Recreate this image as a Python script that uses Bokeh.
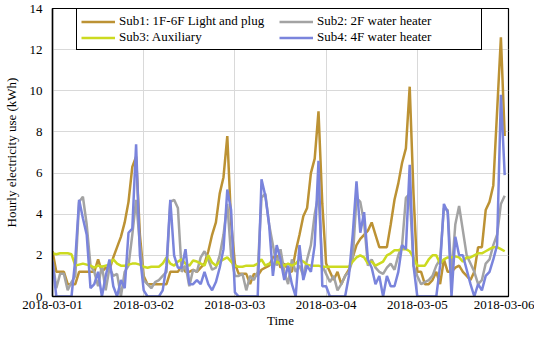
from bokeh.plotting import figure
from bokeh.models import Legend, LegendItem, FixedTicker, Range1d, ColumnDataSource
from bokeh.embed import file_html
from bokeh.resources import INLINE

# ---- data (hourly, 2018-03-01 00:00 .. 2018-03-05 23:00) ----
tick_labels = ["2018-03-01", "2018-03-02", "2018-03-03", "2018-03-04", "2018-03-05", "2018-03-06"]
series_names = ["Sub1: 1F-6F Light and plug", "Sub2: 2F water heater",
                "Sub3: Auxiliary", "Sub4: 4F water heater"]

sub1 = [2.2, 1.2, 1.2, 1.2, 0.6, 0.6, 0.6, 1.2, 1.2, 1.2, 1.2, 1.2, 1.8, 1.2, 1.4, 1.3, 1.9, 2.4, 2.9, 3.6, 4.6, 6.3, 6.8, 3.0,
        1.0, 0.6, 0.6, 0.6, 0.6, 0.6, 0.6, 1.2, 1.2, 1.2, 1.5, 1.2, 1.2, 1.3, 1.2, 1.4, 1.6, 2.2, 3.0, 3.6, 5.0, 5.8, 7.8, 3.6,
        1.6, 1.1, 1.1, 1.1, 0.6, 1.1, 1.0, 1.3, 1.4, 1.5, 1.9, 2.0, 1.4, 1.6, 1.3, 1.2, 2.2, 3.0, 3.9, 4.3, 6.0, 6.7, 9.0, 4.5,
        1.6, 1.2, 0.8, 1.2, 0.6, 1.0, 1.3, 1.9, 2.5, 2.8, 3.0, 3.2, 3.6, 3.0, 2.4, 2.4, 2.4, 3.5, 4.7, 5.5, 6.5, 7.2, 10.2, 5.0,
        1.2, 1.2, 0.6, 0.6, 0.8, 1.2, 0.6, 1.8, 1.2, 1.2, 1.4, 1.5, 1.2, 1.0, 0.8, 1.2, 2.4, 2.4, 4.2, 4.6, 5.4, 9.0, 12.6, 7.8]

sub2 = [1.8, 0.4, 1.1, 1.1, 0.3, 0.7, 1.0, 4.6, 4.85, 3.5, 1.5, 1.2, 0.5, 1.5, 0.3, 1.4, 1.0, 1.1, 0.0, 1.2, 1.5, 3.0, 4.7, 2.5,
        0.8, 0.6, 0.4, 0.7, 0.8, 1.0, 1.2, 4.6, 4.7, 4.3, 1.2, 1.5, 0.5, 1.3, 1.2, 1.9, 2.2, 1.8, 1.3, 1.4, 2.0, 3.0, 4.5, 2.0,
        1.0, 1.0, 1.1, 0.3, 1.0, 0.8, 1.2, 4.8, 5.0, 3.5, 2.5, 1.5, 2.3, 1.2, 0.6, 1.8, 1.2, 1.5, 1.0, 1.8, 2.5, 4.0, 5.0, 1.5,
        1.1, 0.7, 1.0, 0.3, 0.6, 1.0, 1.2, 1.8, 4.8, 4.6, 3.6, 1.5, 1.8, 1.4, 1.2, 1.1, 1.4, 1.6, 1.3, 2.0, 2.5, 4.8, 5.0, 1.5,
        1.0, 0.6, 0.7, 0.8, 1.0, 1.5, 1.8, 4.3, 4.2, 1.0, 3.5, 4.4, 3.2, 2.0, 1.6, 1.2, 0.6, 0.8, 1.6, 1.8, 2.5, 3.0, 4.5, 4.9]

sub3 = [2.1, 2.05, 2.1, 2.1, 2.1, 2.05, 1.5, 1.55, 1.6, 1.55, 1.5, 1.4, 1.5, 1.45, 1.5, 1.55, 1.8, 1.6, 1.5, 1.5, 1.55, 1.6, 1.6, 1.55,
        1.45, 1.4, 1.45, 1.45, 1.45, 1.6, 1.9, 1.6, 1.5, 1.7, 1.8, 1.6, 1.5, 1.75, 1.7, 1.6, 1.5, 2.0, 1.65, 1.5, 1.7, 1.8, 1.9, 1.7,
        1.5, 1.45, 1.45, 1.5, 1.5, 1.5, 1.6, 1.8, 1.5, 1.6, 1.5, 1.7, 1.6, 1.5, 1.6, 1.5, 1.6, 1.8, 1.7, 1.55, 1.5, 1.5, 1.5, 1.45,
        1.45, 1.45, 1.45, 1.45, 1.45, 1.45, 1.45, 1.7, 1.9, 2.0, 1.9, 1.6, 1.7, 1.5, 1.6, 1.7, 2.0, 2.1, 2.25, 2.25, 2.3, 2.3, 2.2, 1.9,
        1.5, 1.5, 1.5, 1.8, 2.0, 2.0, 1.6, 1.8, 1.9, 1.9, 1.95, 1.9, 1.7, 1.9, 1.9, 2.0, 2.1, 2.1, 2.2, 2.3, 2.4, 2.4, 2.3, 2.2]

sub4 = [1.7, 0.0, 0.0, 0.0, 0.0, 0.0, 1.8, 4.7, 3.8, 3.0, 0.4, 0.6, 1.2, 0.0, 1.0, 1.8, 0.5, 0.0, 0.8, 0.4, 3.1, 3.3, 7.4, 2.0,
        0.3, 0.0, 0.0, 0.0, 0.0, 0.3, 1.5, 4.7, 2.0, 1.4, 1.4, 2.3, 0.6, 0.6, 0.8, 0.6, 1.2, 0.6, 0.3, 0.7, 1.4, 2.3, 5.2, 4.2,
        0.2, 0.0, 0.0, 0.0, 0.0, 0.0, 0.0, 5.7, 4.9, 3.5, 1.0, 2.5, 1.8, 0.8, 1.5, 0.6, 0.0, 2.5, 0.8, 1.5, 1.2, 2.5, 6.6, 0.5,
        0.5, 0.0, 0.0, 0.0, 0.0, 0.0, 1.0, 3.0, 5.6, 3.1, 4.1, 1.8, 1.4, 0.6, 1.0, 0.0, 1.0, 0.5, 0.5, 1.2, 2.5, 2.3, 6.4, 1.5,
        0.0, 0.0, 0.0, 0.0, 0.0, 0.0, 1.5, 4.5, 4.1, 0.0, 2.9, 2.0, 2.0, 1.3, 0.6, 0.0, 0.6, 0.3, 1.0, 1.2, 1.8, 2.5, 9.8, 5.9]

colors = ["#BC9234", "#A3A3A3", "#CCDA20", "#7A84DC"]

hours = list(range(len(sub1)))
days = [h / 24.0 for h in hours]

FONT = "Liberation Serif"

W, H = 534, 330
BL, BR, BT, BB = 52, 26, 8, 32
frame_h = H - BT - BB

p = figure(width=W, height=H, output_backend="svg", toolbar_location=None,
           x_range=Range1d(0, 5), y_range=Range1d(0, 14),
           min_border_left=BL, min_border_right=BR, min_border_top=BT, min_border_bottom=BB)
p.background_fill_color = "white"
p.border_fill_color = "white"
p.outline_line_color = "black"
p.outline_line_width = 1.2
p.outline_line_alpha = 1.0

renderers = []
for vals, c in zip([sub1, sub2, sub3, sub4], colors):
    src = ColumnDataSource(dict(x=days, y=vals))
    r = p.line("x", "y", source=src, line_color=c, line_width=2.5)
    renderers.append(r)

p.xaxis.ticker = FixedTicker(ticks=list(range(len(tick_labels))))
p.xaxis.major_label_overrides = {i: lab for i, lab in enumerate(tick_labels)}
p.yaxis.ticker = FixedTicker(ticks=[0, 2, 4, 6, 8, 10, 12, 14])

for ax in (p.xaxis[0], p.yaxis[0]):
    ax.axis_line_color = "black"
    ax.axis_line_width = 1.5
    ax.major_tick_line_color = None
    ax.minor_tick_line_color = None
    ax.major_tick_out = 0
    ax.major_tick_in = 0
    ax.minor_tick_out = 0
    ax.major_label_text_font = FONT
    ax.major_label_text_font_size = "13px"
    ax.major_label_text_color = "black"
    ax.axis_label_text_font = FONT
    ax.axis_label_text_font_size = "13px"
    ax.axis_label_text_font_style = "normal"
    ax.axis_label_text_color = "black"

p.xaxis.axis_label = "Time"
p.yaxis.axis_label = "Hourly electricity use (kWh)"
p.xaxis.major_label_standoff = 4
p.xaxis.axis_label_standoff = 1
p.yaxis.major_label_standoff = 10
p.yaxis.axis_label_standoff = 8

p.xgrid.grid_line_color = "#D9D9D9"
p.ygrid.grid_line_color = "#D9D9D9"
p.xgrid.grid_line_width = 1
p.ygrid.grid_line_width = 1

leg_h = 2 * 15 + 2 * 4
legend = Legend(items=[LegendItem(label=n, renderers=[r]) for n, r in zip(series_names, renderers)],
                orientation="horizontal", ncols=2,
                location=(24, frame_h - 6 - leg_h),
                label_text_font=FONT, label_text_font_size="13px", label_text_color="black",
                label_height=15, glyph_height=15, glyph_width=34, label_standoff=4,
                label_width=160, spacing=0, padding=4, margin=0,
                border_line_color="black", border_line_width=1, border_line_alpha=1.0,
                background_fill_color="white", background_fill_alpha=1.0)
p.add_layout(legend, "center")

open("out.html", "w").write(file_html(p, INLINE))
